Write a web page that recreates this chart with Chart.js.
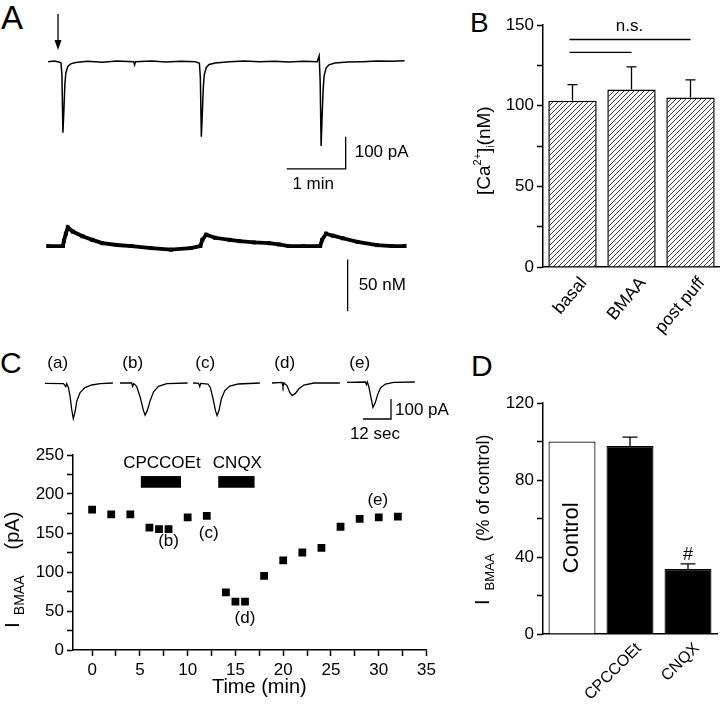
<!DOCTYPE html>
<html>
<head>
<meta charset="utf-8">
<script src="https://cdn.jsdelivr.net/npm/chart.js@4.4.0/dist/chart.umd.min.js"></script>
<style>
body { margin: 0; background: #fff; }
#fig { position: relative; width: 720px; height: 706px; background: #fff; overflow: hidden; font-family: 'Liberation Sans', Arial, sans-serif; }
#fig canvas { position: absolute; }
.letter { position: absolute; line-height: 1; color: #000; }
</style>
</head>
<body>
<div id="fig">
  <div class="letter" style="left:1px;top:1px;font-size:33px">A</div>
  <div class="letter" style="left:470px;top:9px;font-size:28px">B</div>
  <div class="letter" style="left:0px;top:348px;font-size:30px">C</div>
  <div class="letter" style="left:471px;top:351px;font-size:30px">D</div>
  <canvas id="cA" width="440" height="330" style="left:0;top:0"></canvas>
  <canvas id="cB" width="280" height="345" style="left:440px;top:0"></canvas>
  <canvas id="cC" width="440" height="276" style="left:0;top:430px"></canvas>
  <canvas id="cD" width="280" height="351" style="left:440px;top:355px"></canvas>
</div>
<script>
const FONT = "'Liberation Sans', Arial, sans-serif";

// A: membrane current (pA) and [Ca2+]i (nM, change from baseline), time in s
const aCurT = [0, 6, 11, 13, 14, 15, 16, 17, 18, 20, 23, 28, 40, 55, 70, 87, 88, 89, 105, 120, 135, 150, 154, 155, 156, 157, 158, 159, 161, 164, 170, 185, 200, 215, 230, 245, 260, 274, 276, 277, 278, 279, 280, 281, 283, 286, 292, 305, 320, 335, 350, 363];
const aCurV = [0, 2, -1, -4, -40, -221, -150, -70, -35, -15, -7, -3, 1, -2, 2, 0, -10, 0, 2, -1, 1, 0, -5, -50, -233, -160, -80, -40, -18, -9, -4, 0, 2, 0, 1, -1, 1, 0, 18, -60, -262, -170, -90, -45, -20, -10, -4, -1, 0, 2, 1, 3];
const aCaT = [0, 15, 16, 18, 20, 25, 35, 45, 55, 70, 85, 105, 125, 145, 155, 157, 161, 170, 185, 195, 210, 225, 235, 245, 260, 277, 279, 283, 290, 300, 315, 335, 350, 363];
const aCaV = [0, 0, 5, 12, 18, 14, 9.4, 6, 2.8, 1, 0, -2, -3.5, -2, 0, 6, 11, 8, 6, 4.7, 3.5, 2.8, 1.5, 0, 0, 0, 6, 12, 10, 7.5, 4, 0.9, 0, 0];
const aPuffT = 10;

// B: [Ca2+]i
const bLabels = ['basal', 'BMAA', 'post puff'];
const bMeans = [103, 110, 105];
const bErr = [10, 14, 11];
const bTicks = [0, 25, 50, 75, 100, 125, 150];

// C: example sweeps (s, pA) and time course
const cSweepNames = ['(a)', '(b)', '(c)', '(d)', '(e)'];
const cSweepT = [
  [0, 7.9, 8.9, 9.3, 10, 10.7, 11.4, 12.1, 12.9, 13.6, 15, 17.1, 20, 23.6, 29],
  [0, 5, 5.4, 5.9, 7.1, 8.6, 10, 10.7, 11.7, 12.9, 14.3, 16.4, 20, 28.9],
  [0, 2.4, 2.9, 3.3, 6.4, 7.4, 8.6, 9.6, 10.3, 11.1, 12.1, 13.6, 15.7, 19.3, 28.6],
  [0, 4.3, 4.7, 5.1, 6.4, 7.6, 8.6, 10, 11.4, 13.6, 17.9, 29],
  [0, 7.9, 8.3, 8.7, 9.3, 10, 11.1, 12.1, 13.1, 14.3, 16.4, 20, 29]
];
const cSweepV = [
  [-2, -3, -18, -3, -23, -65, -132, -178, -140, -90, -48, -23, -10, -3, 0],
  [0, 0, -17, -3, -17, -70, -137, -160, -137, -87, -45, -17, -3, 0],
  [0, -2, -18, -2, -5, -22, -80, -138, -163, -138, -80, -38, -15, -5, 0],
  [0, 3, -18, 0, -13, -47, -63, -52, -30, -10, 0, 0],
  [3, 5, -8, 5, -17, -58, -122, -98, -58, -25, -5, 3, 5]
];
const cTime = [0, 2, 4, 6, 7, 8, 10, 12, 14, 15, 16, 18, 20, 22, 24, 26, 28, 30, 32];
const cAmp = [180, 174, 174, 157, 155, 155, 170, 172, 74, 62, 62, 95, 115, 125, 131, 158, 168, 170, 171];
const cDrugs = ['CPCCOEt', 'CNQX'];
const cDrugOn = [5.1, 13.2];
const cDrugOff = [9.3, 17.0];
const cMarkNames = ['(b)', '(c)', '(d)', '(e)'];
const cMarkT = [8.0, 12.2, 16.0, 29.9];
const cMarkV = [139, 149, 40, 192];
const cXTicks = [0, 2.5, 5, 7.5, 10, 12.5, 15, 17.5, 20, 22.5, 25, 27.5, 30, 32.5, 35];
const cYTicks = [0, 25, 50, 75, 100, 125, 150, 175, 200, 225, 250];

// D: I_BMAA (% of control)
const dLabels = ['', 'CPCCOEt', 'CNQX'];
const dMeans = [100, 97.7, 33.8];
const dErr = [0, 4.6, 2.6];
const dTicks = [0, 20, 40, 60, 80, 100, 120];

Chart.defaults.font.family = FONT;
Chart.defaults.color = '#000';
Chart.defaults.animation = false;
Chart.defaults.responsive = false;
Chart.defaults.devicePixelRatio = 1;
Chart.defaults.plugins.legend.display = false;
Chart.defaults.plugins.tooltip.enabled = false;

const xy = (ts, vs) => ts.map((t, i) => ({x: t, y: vs[i]}));

function numAxis(min, max, ticks, every, fit, horiz) {
  return {
    min, max,
    afterBuildTicks: s => { s.ticks = ticks.map(v => ({value: v})); },
    afterFit: s => { if (horiz) s.height = fit; else s.width = fit; },
    border: {color: '#000', width: 1.5},
    grid: {drawOnChartArea: false, tickLength: 6, tickColor: '#000', tickWidth: 1.5},
    ticks: {font: {size: 17}, padding: horiz ? 4 : 3, autoSkip: false, maxRotation: 0,
      callback: v => v % every === 0 ? String(v) : ''}
  };
}
// category axis: labels drawn by slantLabels below
function catAxis(fit) {
  return {
    afterFit: s => { s.height = fit; },
    border: {color: '#000', width: 1.5},
    grid: {display: false},
    ticks: {display: false}
  };
}

const slantLabels = {
  id: 'slantLabels',
  afterDraw(chart, args, opts) {
    const {ctx, scales: {x}} = chart;
    ctx.save();
    ctx.fillStyle = '#000';
    ctx.font = opts.size + 'px ' + FONT;
    ctx.textAlign = 'right'; ctx.textBaseline = 'alphabetic';
    chart.data.labels.forEach((lab, i) => {
      ctx.save();
      ctx.translate(x.getPixelForValue(i) + opts.dx, x.top + opts.dy);
      ctx.rotate(-opts.angle * Math.PI / 180);
      ctx.fillText(lab, 0, 0);
      ctx.restore();
    });
    ctx.restore();
  }
};

// rotated title drawn bottom-to-top from (x, y0), parts with own size / offset
function vTitle(ctx, x, y0, parts) {
  ctx.save();
  ctx.translate(x, y0);
  ctx.rotate(-Math.PI / 2);
  ctx.textAlign = 'left'; ctx.textBaseline = 'alphabetic';
  let p = 0;
  parts.forEach(pt => {
    p += pt.gap || 0;
    ctx.font = pt.size + 'px ' + FONT;
    ctx.fillText(pt.t, p, pt.dy || 0);
    p += ctx.measureText(pt.t).width;
  });
  ctx.restore();
}

const errorBars = {
  id: 'errorBars',
  afterDatasetsDraw(chart, args, opts) {
    const {ctx, scales: {x, y}} = chart;
    const vals = chart.data.datasets[0].data;
    ctx.save();
    ctx.strokeStyle = '#000'; ctx.lineWidth = 1.3;
    vals.forEach((v, i) => {
      const e = opts.err[i];
      if (!e) return;
      const px = x.getPixelForValue(i), top = y.getPixelForValue(v + e);
      ctx.beginPath();
      ctx.moveTo(px, y.getPixelForValue(v)); ctx.lineTo(px, top);
      ctx.moveTo(px - opts.cap / 2, top); ctx.lineTo(px + opts.cap / 2, top);
      ctx.stroke();
    });
    ctx.restore();
  }
};

// ---------- A ----------
const aExtras = {
  id: 'aExtras',
  afterDraw(chart) {
    const {ctx, scales: {x, y, y2}} = chart;
    ctx.save();
    ctx.strokeStyle = '#000'; ctx.fillStyle = '#000'; ctx.lineWidth = 1.3;
    // puff arrow
    const ax = x.getPixelForValue(aPuffT), a0 = y.getPixelForValue(148), a1 = y.getPixelForValue(36);
    ctx.beginPath(); ctx.moveTo(ax, a0); ctx.lineTo(ax, a1 - 8); ctx.stroke();
    ctx.beginPath(); ctx.moveTo(ax - 3.5, a1 - 10); ctx.lineTo(ax + 3.5, a1 - 10); ctx.lineTo(ax, a1); ctx.closePath(); ctx.fill();
    // 100 pA / 1 min
    const sx = x.getPixelForValue(303), sx0 = x.getPixelForValue(243);
    const s0 = y.getPixelForValue(-233), s1 = y.getPixelForValue(-333);
    ctx.beginPath(); ctx.moveTo(sx, s0); ctx.lineTo(sx, s1); ctx.lineTo(sx0, s1); ctx.stroke();
    ctx.font = '17px ' + FONT;
    ctx.textAlign = 'left'; ctx.textBaseline = 'middle';
    ctx.fillText('100 pA', sx + 9, (s0 + s1) / 2);
    ctx.textAlign = 'center'; ctx.textBaseline = 'top';
    ctx.fillText('1 min', (sx + sx0) / 2 - 3, s1 + 7);
    // 50 nM
    const nx = x.getPixelForValue(305), n0 = y2.getPixelForValue(-13), n1 = y2.getPixelForValue(-63);
    ctx.beginPath(); ctx.moveTo(nx, n0); ctx.lineTo(nx, n1); ctx.stroke();
    ctx.textAlign = 'left'; ctx.textBaseline = 'middle';
    ctx.fillText('50 nM', nx + 11, (n0 + n1) / 2);
    ctx.restore();
  }
};
new Chart(document.getElementById('cA'), {
  type: 'scatter',
  data: {datasets: [
    {data: xy(aCurT, aCurV), yAxisID: 'y', showLine: true, borderColor: '#000', borderWidth: 1.5, pointRadius: 0},
    {data: xy(aCaT, aCaV), yAxisID: 'y2', showLine: true, borderColor: '#000', borderWidth: 3.8,
      pointStyle: 'rect', pointRadius: 2.8, backgroundColor: '#000', pointBorderWidth: 0}
  ]},
  options: {
    layout: {padding: 0},
    scales: {
      x: {display: false, min: -45, max: 395},
      y: {display: false, min: -821, max: 179},
      y2: {display: false, min: -77.3, max: 234}
    }
  },
  plugins: [aExtras]
});

// ---------- B ----------
const cB = document.getElementById('cB');
const hatchTile = document.createElement('canvas');
hatchTile.width = hatchTile.height = 5;
const hg = hatchTile.getContext('2d');
hg.fillStyle = '#fff'; hg.fillRect(0, 0, 5, 5);
hg.strokeStyle = '#222'; hg.lineWidth = 0.9;
hg.beginPath();
hg.moveTo(0, 5); hg.lineTo(5, 0);
hg.moveTo(-1, 1); hg.lineTo(1, -1);
hg.moveTo(4, 6); hg.lineTo(6, 4);
hg.stroke();
const hatch = cB.getContext('2d').createPattern(hatchTile, 'repeat');

const bExtras = {
  id: 'bExtras',
  afterDraw(chart) {
    const {ctx, scales: {x, y}} = chart;
    ctx.save();
    ctx.strokeStyle = '#000'; ctx.fillStyle = '#000'; ctx.lineWidth = 1.3;
    [[0, 2, 141], [0, 1, 133]].forEach(([i, j, v]) => {
      const py = y.getPixelForValue(v);
      ctx.beginPath(); ctx.moveTo(x.getPixelForValue(i) - 3, py); ctx.lineTo(x.getPixelForValue(j), py); ctx.stroke();
    });
    ctx.font = '17px ' + FONT; ctx.textAlign = 'center'; ctx.textBaseline = 'alphabetic';
    ctx.fillText('n.s.', x.getPixelForValue(1) - 2, y.getPixelForValue(150) + 6);
    vTitle(ctx, 50, 195, [
      {t: '[Ca', size: 19},
      {t: '2+', size: 11, dy: -9},
      {t: ']', size: 19},
      {t: 'i', size: 10, dy: 4},
      {t: '(nM)', size: 19}
    ]);
    ctx.restore();
  }
};
new Chart(cB, {
  type: 'bar',
  data: {labels: bLabels, datasets: [{data: bMeans, backgroundColor: hatch, borderColor: '#000', borderWidth: 1.5,
    barPercentage: 0.82, categoryPercentage: 1}]},
  options: {
    layout: {padding: {top: 25, right: 0, left: 0, bottom: 0}},
    scales: {x: catAxis(78), y: numAxis(0, 150, bTicks, 50, 103, false)},
    plugins: {errorBars: {err: bErr, cap: 10}, slantLabels: {size: 17.5, dx: 15, dy: 16, angle: 50}}
  },
  plugins: [errorBars, slantLabels, bExtras]
});

// ---------- C: sweeps ----------
const fig = document.getElementById('fig');
const sweepLeft = [45, 120, 193, 272, 347];
const PX_PER_S = 2.34, PA_PER_PX = 5, BASE_PX = 33;
const sweepExtras = {
  id: 'sweepExtras',
  afterDraw(chart, args, opts) {
    const {ctx, scales: {x, y}} = chart;
    ctx.save();
    ctx.fillStyle = '#000'; ctx.strokeStyle = '#000'; ctx.lineWidth = 1.3;
    ctx.font = '17px ' + FONT; ctx.textAlign = 'left'; ctx.textBaseline = 'middle';
    ctx.fillText(opts.name, x.getPixelForValue(1), y.getPixelForValue(100));
    if (opts.bar) {
      // 100 pA / 12 sec
      const bx = x.getPixelForValue(18.8), bx0 = x.getPixelForValue(6.8);
      const b0 = y.getPixelForValue(-80), b1 = y.getPixelForValue(-180);
      ctx.beginPath(); ctx.moveTo(bx, b0); ctx.lineTo(bx, b1); ctx.lineTo(bx0, b1); ctx.stroke();
      ctx.fillText('100 pA', bx + 4, (b0 + b1) / 2 + 1);
      ctx.textAlign = 'center';
      ctx.fillText('12 sec', (bx + bx0) / 2 - 2, b1 + 15);
    }
    ctx.restore();
  }
};
cSweepT.forEach((ts, i) => {
  const last = i === cSweepT.length - 1;
  const w = last ? 110 : 70, h = last ? 100 : 80;
  const cv = document.createElement('canvas');
  cv.width = w; cv.height = h;
  cv.style.left = sweepLeft[i] + 'px'; cv.style.top = '350px';
  fig.appendChild(cv);
  new Chart(cv, {
    type: 'scatter',
    data: {datasets: [{data: xy(ts, cSweepV[i]), showLine: true, borderColor: '#000', borderWidth: 1.3, pointRadius: 0}]},
    options: {
      layout: {padding: 0},
      scales: {
        x: {display: false, min: 0, max: w / PX_PER_S},
        y: {display: false, min: -(h - BASE_PX) * PA_PER_PX, max: BASE_PX * PA_PER_PX}
      },
      plugins: {sweepExtras: {name: cSweepNames[i], bar: last}}
    },
    plugins: [sweepExtras]
  });
});

// ---------- C: time course ----------
const cExtras = {
  id: 'cExtras',
  afterDraw(chart) {
    const {ctx, chartArea, scales: {x, y}} = chart;
    ctx.save();
    ctx.fillStyle = '#000';
    ctx.font = '17px ' + FONT; ctx.textAlign = 'center'; ctx.textBaseline = 'alphabetic';
    cDrugs.forEach((name, i) => {
      const x0 = x.getPixelForValue(cDrugOn[i]), x1 = x.getPixelForValue(cDrugOff[i]);
      const y0 = y.getPixelForValue(223), y1 = y.getPixelForValue(208);
      ctx.fillRect(x0, y0, x1 - x0, y1 - y0);
      ctx.fillText(name, (x0 + x1) / 2 + 1, y.getPixelForValue(233));
    });
    ctx.textBaseline = 'middle';
    cMarkNames.forEach((m, i) => ctx.fillText(m, x.getPixelForValue(cMarkT[i]), y.getPixelForValue(cMarkV[i])));
    ctx.font = '20px ' + FONT;
    ctx.fillText('Time (min)', x.getPixelForValue(17.5), chartArea.bottom + 37);
    vTitle(ctx, 19, 198, [
      {t: 'I', size: 21},
      {t: 'BMAA', size: 14, dy: 5, gap: 7},
      {t: '(pA)', size: 20, gap: 26}
    ]);
    ctx.restore();
  }
};
new Chart(document.getElementById('cC'), {
  type: 'scatter',
  data: {datasets: [{data: xy(cTime, cAmp), pointStyle: 'rect', pointRadius: 5.5, backgroundColor: '#000', borderWidth: 0}]},
  options: {
    layout: {padding: {top: 25, right: 9, left: 0, bottom: 0}},
    scales: {
      x: numAxis(-2, 35, cXTicks, 5, 56, true),
      y: numAxis(0, 250, cYTicks, 50, 73, false)
    }
  },
  plugins: [cExtras]
});

// ---------- D ----------
const dExtras = {
  id: 'dExtras',
  afterDraw(chart) {
    const {ctx, scales: {x, y}} = chart;
    ctx.save();
    ctx.fillStyle = '#000';
    ctx.font = '18px ' + FONT; ctx.textAlign = 'center'; ctx.textBaseline = 'alphabetic';
    ctx.fillText('#', x.getPixelForValue(2), y.getPixelForValue(dMeans[2] + dErr[2]) - 4);
    ctx.save();
    ctx.translate(x.getPixelForValue(0), y.getPixelForValue(50));
    ctx.rotate(-Math.PI / 2);
    ctx.font = '22px ' + FONT; ctx.textBaseline = 'middle';
    ctx.fillText('Control', 0, 0);
    ctx.restore();
    vTitle(ctx, 49, 250, [
      {t: 'I', size: 20},
      {t: 'BMAA', size: 13, dy: 5, gap: 9},
      {t: '(% of control)', size: 18, gap: 12}
    ]);
    ctx.restore();
  }
};
new Chart(document.getElementById('cD'), {
  type: 'bar',
  data: {labels: dLabels, datasets: [{data: dMeans, backgroundColor: ['#fff', '#000', '#000'], borderColor: '#000',
    borderWidth: 1.2, barPercentage: 0.81, categoryPercentage: 1}]},
  options: {
    layout: {padding: {top: 48, right: 3, left: 0, bottom: 0}},
    scales: {x: catAxis(72), y: numAxis(0, 120, dTicks, 40, 103, false)},
    plugins: {errorBars: {err: dErr, cap: 15}, slantLabels: {size: 16, dx: 12, dy: 15, angle: 45}}
  },
  plugins: [errorBars, slantLabels, dExtras]
});
</script>
</body>
</html>
